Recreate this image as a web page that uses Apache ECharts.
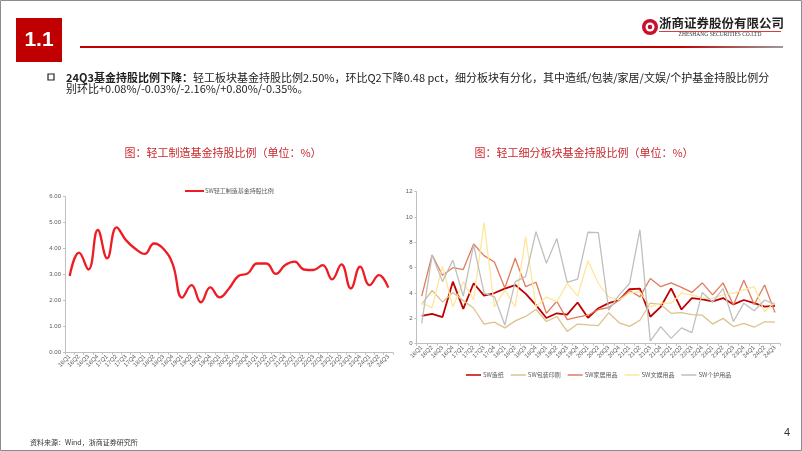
<!DOCTYPE html>
<html><head><meta charset="utf-8">
<script src="https://cdn.jsdelivr.net/npm/echarts@6/dist/echarts.min.js"></script>
<style>
html,body{margin:0;padding:0;background:#fff;}
#c{width:802px;height:451px;box-sizing:border-box;}
</style></head><body>
<div id="c"></div>
<script>
const categories = ['16Q1','16Q2','16Q3','16Q4','17Q1','17Q2','17Q3','17Q4','18Q1','18Q2','18Q3','18Q4','19Q1','19Q2','19Q3','19Q4','20Q1','20Q2','20Q3','20Q4','21Q1','21Q2','21Q3','21Q4','22Q1','22Q2','22Q3','22Q4','23Q1','23Q2','23Q3','23Q4','24Q1','24Q2','24Q3'];
const lightIndustry = [2.95,3.85,3.2,4.72,3.63,4.82,4.33,4.0,3.8,4.2,4.0,3.4,2.12,2.6,1.94,2.51,2.13,2.47,2.95,3.05,3.43,3.43,3.03,3.37,3.5,3.2,3.18,3.37,2.82,3.4,2.47,3.31,2.6,2.98,2.5];
const paper = [2.2,2.35,2.1,4.9,2.75,4.77,3.8,4.0,4.35,4.63,3.95,3.05,2.03,2.4,2.3,3.25,2.05,2.8,3.2,3.45,4.3,4.35,2.13,2.9,4.37,2.7,3.6,3.5,3.35,3.6,3.1,3.45,3.2,2.92,2.98];
const packaging = [3.1,4.2,3.3,4.05,3.4,2.8,1.55,1.7,1.25,1.8,2.15,2.7,1.75,2.15,0.97,1.55,1.48,1.42,2.45,1.65,1.37,1.85,3.2,3.1,2.4,2.45,2.3,2.25,1.55,2.0,1.35,1.6,1.3,1.73,1.7];
const furniture = [3.75,7.0,5.4,6.0,5.85,7.87,6.95,6.45,4.4,6.75,4.5,4.85,2.4,3.35,1.9,2.1,2.25,2.7,2.85,3.45,4.2,3.7,5.15,4.5,4.8,4.45,4.05,4.8,3.85,4.8,3.05,5.0,3.1,4.63,2.47];
const entertainment = [3.2,2.85,6.1,2.9,4.9,3.45,9.55,2.9,4.25,2.9,8.45,2.9,3.7,3.3,4.75,3.75,6.55,4.75,3.7,3.45,4.0,4.1,2.9,3.2,3.2,4.0,3.85,3.6,3.6,3.85,4.0,4.25,4.5,2.5,3.3];
const personalCare = [1.6,7.0,4.9,6.6,3.75,7.8,4.0,3.7,1.47,4.9,5.3,8.85,6.35,8.3,4.85,5.1,8.8,8.77,2.65,3.85,4.75,9.0,0.2,1.35,0.42,1.25,0.87,4.05,3.3,4.35,1.75,3.2,2.6,3.45,3.1];
const leftYTicks = [0,1,2,3,4,5,6];
const rightYTicks = [0,2,4,6,8,10,12];

const chart = echarts.init(document.getElementById('c'));
const axisGray = '#bfbfbf';
const labGray = '#595959';
const cjk = '"Noto Sans CJK SC", "Noto Sans", sans-serif';

function xAxis(gi){
  return {type:'category', gridIndex:gi, data:categories, boundaryGap:true,
    axisLine:{lineStyle:{color:axisGray,width:1}},
    axisTick:{show:true,length:2,interval:0,lineStyle:{color:axisGray}},
    axisLabel:{interval:0, rotate:45, fontSize:6, color:labGray, margin:3, fontFamily:'Arial, Liberation Sans'}};
}
function line(name, data, color, width, gi, smooth){
  return {name, type:'line', data, xAxisIndex:gi, yAxisIndex:gi, smooth:smooth||false,
    showSymbol:false, symbol:'none', lineStyle:{color, width}, itemStyle:{color}, animation:false};
}

chart.setOption({
  animation:false,
  grid:[
    {left:65, right:409, top:196.7, bottom:98.3},
    {left:416.5, right:21.8, top:191.7, bottom:107.3}
  ],
  xAxis:[xAxis(0), xAxis(1)],
  yAxis:[
    {type:'value', gridIndex:0, min:leftYTicks[0], max:leftYTicks[leftYTicks.length-1], interval:1,
      splitLine:{show:false}, axisLine:{show:true,lineStyle:{color:axisGray}}, axisTick:{show:true,length:2,lineStyle:{color:axisGray}},
      axisLabel:{fontSize:6, color:labGray, margin:4, formatter:v=>v.toFixed(2), fontFamily:'Arial, Liberation Sans'}},
    {type:'value', gridIndex:1, min:rightYTicks[0], max:rightYTicks[rightYTicks.length-1], interval:2,
      splitLine:{show:false}, axisLine:{show:true,lineStyle:{color:axisGray}}, axisTick:{show:true,length:2,lineStyle:{color:axisGray}},
      axisLabel:{fontSize:6, color:labGray, margin:4, fontFamily:'Arial, Liberation Sans'}}
  ],
  legend:[
    {data:['SW轻工制造基金持股比例'], left:180, top:183, icon:'rect', itemWidth:19, itemHeight:2,
      textStyle:{fontSize:6, color:labGray, fontFamily:cjk, padding:[0,0,0,-4]}},
    {data:['SW造纸','SW包装印刷','SW家居用品','SW文娱用品','SW个护用品'], left:461, top:367, icon:'rect',
      itemWidth:15, itemHeight:1.5, itemGap:7,
      textStyle:{fontSize:6, color:labGray, fontFamily:cjk, padding:[0,0,0,-3]}}
  ],
  series:[
    line('SW轻工制造基金持股比例', lightIndustry, '#ee1c25', 2.3, 0, 0.45),
    line('SW造纸', paper, '#c00000', 1.8, 1),
    line('SW包装印刷', packaging, '#dcc28e', 1.3, 1),
    line('SW家居用品', furniture, '#e07b5b', 1.3, 1),
    line('SW文娱用品', entertainment, '#ffe699', 1.3, 1),
    line('SW个护用品', personalCare, '#bfbfbf', 1.3, 1)
  ],
  graphic:[
    {type:'rect', shape:{x:0.5,y:0.5,width:801,height:450}, style:{fill:'none', stroke:'#8c8c8c', lineWidth:1}, silent:true},
    {type:'rect', shape:{x:16,y:18,width:46,height:44}, style:{fill:'#c00000'}},
    {type:'text', x:39, y:40, style:{text:'1.1', fill:'#fff', fontSize:21, fontWeight:'bold', fontFamily:'Arial, Liberation Sans', align:'center', verticalAlign:'middle'}},
    {type:'rect', shape:{x:80,y:46,width:703,height:2}, style:{fill:new echarts.graphic.LinearGradient(0,0,1,0,[{offset:0,color:'#c00000'},{offset:0.85,color:'#c00000'},{offset:1,color:'#9a9a9a'}])}},
    {type:'circle', shape:{cx:650,cy:27,r:8}, style:{fill:'#c8102e'}},
    {type:'circle', shape:{cx:650,cy:27,r:4.5}, style:{fill:'#fff'}},
    {type:'circle', shape:{cx:650,cy:27,r:2.3}, style:{fill:'#c8102e'}},
    {type:'text', x:659, y:23, style:{text:'浙商证券股份有限公司', fill:'#222', fontSize:12.5, fontWeight:'bold', fontFamily:cjk, verticalAlign:'middle'}},
    {type:'rect', shape:{x:659,y:31,width:122,height:0.8}, style:{fill:'#c00000'}},
    {type:'text', x:720, y:35, style:{text:'ZHESHANG SECURITIES CO.LTD', fill:'#333', fontSize:5.5, fontFamily:'"Liberation Serif", serif', align:'center', verticalAlign:'middle'}},
    {type:'rect', shape:{x:48,y:74,width:6,height:6}, style:{fill:'none', stroke:'#222', lineWidth:1.2}},
    {type:'text', x:66, y:78, style:{
      text:'{b|24Q3基金持股比例下降：}{n|轻工板块基金持股比例2.50%，环比Q2下降0.48 pct，细分板块有分化，其中造纸/包装/家居/文娱/个护基金持股比例分}',
      verticalAlign:'middle',
      rich:{b:{fontSize:11, fontWeight:'bold', fill:'#222', fontFamily:cjk}, n:{fontSize:11, fill:'#222', fontFamily:cjk}}}},
    {type:'text', x:66, y:89, style:{text:'别环比+0.08%/-0.03%/-2.16%/+0.80%/-0.35%。', fontSize:11, fill:'#222', fontFamily:cjk, verticalAlign:'middle'}},
    {type:'text', x:223, y:153, style:{text:'图：轻工制造基金持股比例（单位：%）', fill:'#c8282d', fontSize:11, fontFamily:cjk, align:'center', verticalAlign:'middle'}},
    {type:'text', x:584, y:153, style:{text:'图：轻工细分板块基金持股比例（单位：%）', fill:'#c8282d', fontSize:11, fontFamily:cjk, align:'center', verticalAlign:'middle'}},
    {type:'text', x:30, y:442, style:{text:'资料来源：Wind，浙商证券研究所', fill:'#333', fontSize:7, fontFamily:cjk, verticalAlign:'middle'}},
    {type:'text', x:787, y:433, style:{text:'4', fill:'#333', fontSize:11, fontFamily:'Arial, Liberation Sans', align:'center', verticalAlign:'middle'}}
  ]
});
</script></body></html>
